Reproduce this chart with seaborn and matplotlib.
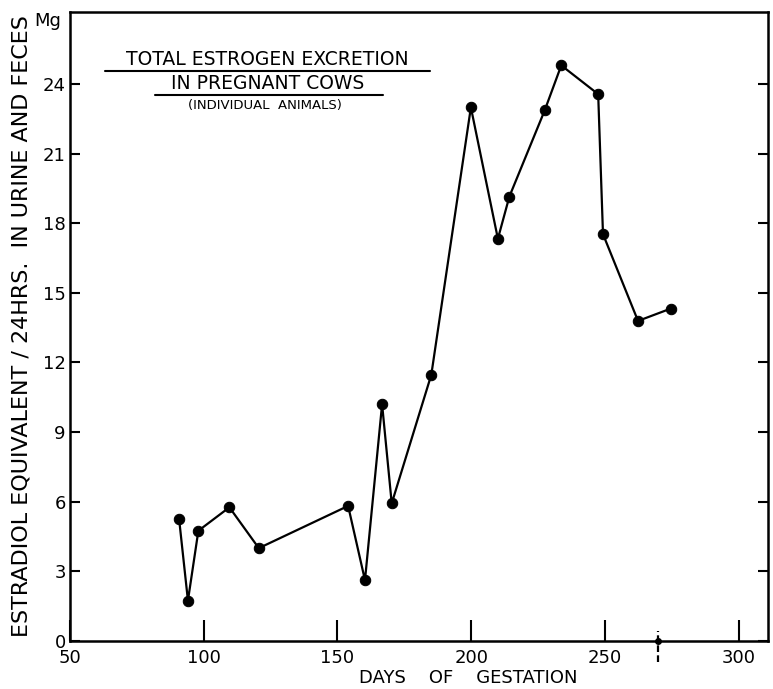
import pandas as pd
import seaborn as sns
import matplotlib.pyplot as plt

# days of gestation and total estrogen excretion (mg estradiol equivalent / 24 hrs)
days = [90.8, 94.1, 98.0, 109.6, 120.6, 154.0, 160.3, 166.7, 170.3, 185.1,
        199.9, 210.0, 214.3, 227.5, 233.7, 247.5, 249.3, 262.4, 274.6]
estrogen = [5.25, 1.74, 4.75, 5.76, 4.0, 5.82, 2.62, 10.2, 5.93, 11.47,
            22.99, 17.33, 19.15, 22.86, 24.8, 23.56, 17.53, 13.79, 14.32]
parturition_day = 270

x_ticks = [50, 100, 150, 200, 250, 300]
y_ticks = [0, 3, 6, 9, 12, 15, 18, 21, 24]

df = pd.DataFrame({"days": days, "estrogen": estrogen})

sns.set_style("ticks")
plt.rcParams['font.family'] = ['DejaVu Sans']
plt.rcParams['text.color'] = "black"
plt.rcParams['axes.labelcolor'] = "black"
plt.rcParams['xtick.color'] = "black"
plt.rcParams['ytick.color'] = "black"

fig = plt.figure(figsize=(7.73, 6.89), dpi=100)
ax = fig.add_axes([70 / 773, 1 - 641 / 689, 698 / 773, 629 / 689])

sns.lineplot(data=df, x="days", y="estrogen", ax=ax, color="black",
             linewidth=1.6, marker="o", markersize=7.5, markeredgecolor="black",
             estimator=None, sort=False)

ax.set_xlim(50, 311)
ax.set_ylim(0, 27.1)
ax.set_xticks(x_ticks)
ax.set_yticks(y_ticks)
ax.tick_params(axis="x", direction="in", length=15, width=1.5, labelsize=13, pad=6)
ax.tick_params(axis="y", direction="in", length=7, width=1.5, labelsize=13,
               right=True, pad=3)
for s in ax.spines.values():
    s.set_linewidth(1.8)
    s.set_color("black")

ax.set_xlabel("DAYS    OF    GESTATION", fontsize=13, va="center")
ax.set_ylabel("ESTRADIOL EQUIVALENT / 24HRS.  IN URINE AND FECES", fontsize=16,
              va="center")
ax.xaxis.set_label_coords(0.57, -0.059)
ax.yaxis.set_label_coords(-0.069, 0.5)

# unit label at top of y axis
ax.text(-0.012, 1.0, "Mg", transform=ax.transAxes, ha="right", va="top", fontsize=13)

# parturition mark on the x axis
ax.plot([parturition_day, parturition_day], [-0.9, 0.45], color="black",
        linewidth=1.6, linestyle=(0, (3, 1.5)), clip_on=False)
ax.plot([parturition_day], [0], marker="o", color="black", markersize=4, clip_on=False)

# title block
ax.text(0.283, 0.924, "TOTAL ESTROGEN EXCRETION", transform=ax.transAxes,
        ha="center", va="center", fontsize=13.5)
ax.plot([0.050, 0.516], [0.906, 0.906], transform=ax.transAxes, color="black", lw=1.5)
ax.text(0.283, 0.886, "IN PREGNANT COWS", transform=ax.transAxes,
        ha="center", va="center", fontsize=13.5)
ax.plot([0.122, 0.448], [0.868, 0.868], transform=ax.transAxes, color="black", lw=1.5)
ax.text(0.279, 0.851, "(INDIVIDUAL  ANIMALS)", transform=ax.transAxes,
        ha="center", va="center", fontsize=9.5)

fig.savefig("out.png", dpi=100)
plt.close()
